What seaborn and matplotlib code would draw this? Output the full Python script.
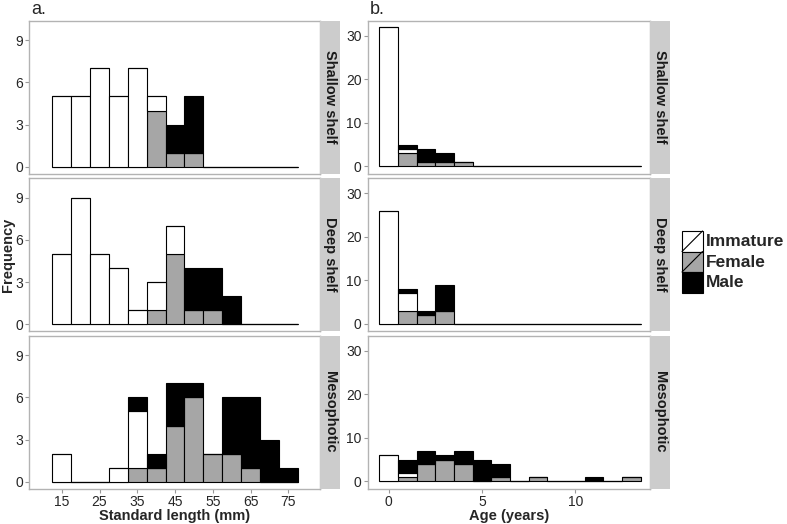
import matplotlib.pyplot as plt
import seaborn as sns
import numpy as np
import pandas as pd
from matplotlib.patches import Rectangle

# Bin centres
length_bins = [15, 20, 25, 30, 35, 40, 45, 50, 55, 60, 65, 70, 75]
age_bins = [0, 1, 2, 3, 4, 5, 6, 7, 8, 9, 10, 11, 12, 13]

sites = ['Shallow shelf', 'Deep shelf', 'Mesophotic']
stages = ['Immature', 'Female', 'Male']

# Standard length counts (per 5 mm bin)
shallow_len_immature = [5, 5, 7, 5, 7, 1, 0, 0, 0, 0, 0, 0, 0]
shallow_len_female = [0, 0, 0, 0, 0, 4, 1, 1, 0, 0, 0, 0, 0]
shallow_len_male = [0, 0, 0, 0, 0, 0, 2, 4, 0, 0, 0, 0, 0]
deep_len_immature = [5, 9, 5, 4, 1, 2, 2, 0, 0, 0, 0, 0, 0]
deep_len_female = [0, 0, 0, 0, 0, 1, 5, 1, 1, 0, 0, 0, 0]
deep_len_male = [0, 0, 0, 0, 0, 0, 0, 3, 3, 2, 0, 0, 0]
meso_len_immature = [2, 0, 0, 1, 4, 0, 0, 0, 0, 0, 0, 0, 0]
meso_len_female = [0, 0, 0, 0, 1, 1, 4, 6, 2, 2, 1, 0, 0]
meso_len_male = [0, 0, 0, 0, 1, 1, 3, 1, 0, 4, 5, 3, 1]

# Age counts (per 1 year bin)
shallow_age_immature = [32, 1, 0, 0, 0, 0, 0, 0, 0, 0, 0, 0, 0, 0]
shallow_age_female = [0, 3, 1, 1, 1, 0, 0, 0, 0, 0, 0, 0, 0, 0]
shallow_age_male = [0, 1, 3, 2, 0, 0, 0, 0, 0, 0, 0, 0, 0, 0]
deep_age_immature = [26, 4, 0, 0, 0, 0, 0, 0, 0, 0, 0, 0, 0, 0]
deep_age_female = [0, 3, 2, 3, 0, 0, 0, 0, 0, 0, 0, 0, 0, 0]
deep_age_male = [0, 1, 1, 6, 0, 0, 0, 0, 0, 0, 0, 0, 0, 0]
meso_age_immature = [6, 1, 0, 0, 0, 0, 0, 0, 0, 0, 0, 0, 0, 0]
meso_age_female = [0, 1, 4, 5, 4, 0, 1, 0, 1, 0, 0, 0, 0, 1]
meso_age_male = [0, 3, 3, 1, 3, 5, 3, 0, 0, 0, 0, 1, 0, 0]

length_counts = {
    'Shallow shelf': [shallow_len_immature, shallow_len_female, shallow_len_male],
    'Deep shelf': [deep_len_immature, deep_len_female, deep_len_male],
    'Mesophotic': [meso_len_immature, meso_len_female, meso_len_male],
}
age_counts = {
    'Shallow shelf': [shallow_age_immature, shallow_age_female, shallow_age_male],
    'Deep shelf': [deep_age_immature, deep_age_female, deep_age_male],
    'Mesophotic': [meso_age_immature, meso_age_female, meso_age_male],
}

colors = {'Immature': 'white', 'Female': '#A6A6A6', 'Male': 'black'}
# seaborn stacks the last hue level at the bottom
stack_order = ['Male', 'Immature', 'Female']


def long_table(bins, counts):
    rows = []
    for stage, vals in zip(stages, counts):
        for b, c in zip(bins, vals):
            rows.append({'value': b, 'stage': stage, 'count': c})
    return pd.DataFrame(rows)


sns.set_theme(style='white')
plt.rcParams['font.family'] = ['Liberation Sans', 'DejaVu Sans']

W, H = 787, 524
fig = plt.figure(figsize=(W / 100, H / 100), dpi=100)


def px_axes(x0, y0, x1, y1):
    return fig.add_axes([x0 / W, 1 - y1 / H, (x1 - x0) / W, (y1 - y0) / H])


row_tops = [20.7, 178.2, 335.7]
row_h = 153
columns = [
    dict(x0=29.3, x1=320, s1=340, bins=length_bins, counts=length_counts,
         binwidth=5, binrange=(12.5, 77.5), xlim=(6.4, 83.4), ylim=(-0.5, 10.4),
         xticks=[15, 25, 35, 45, 55, 65, 75], yticks=[0, 3, 6, 9],
         xlabel='Standard length (mm)', tag='a.'),
    dict(x0=368, x1=650, s1=670, bins=age_bins, counts=age_counts,
         binwidth=1, binrange=(-0.5, 13.5), xlim=(-1.1, 14.0), ylim=(-1.7, 33.5),
         xticks=[0, 5, 10], yticks=[0, 10, 20, 30],
         xlabel='Age (years)', tag='b.'),
]

for col in columns:
    for r, site in enumerate(sites):
        top = row_tops[r]
        ax = px_axes(col['x0'], top, col['x1'], top + row_h)
        df = long_table(col['bins'], col['counts'][site])
        sns.histplot(data=df, x='value', weights='count', hue='stage',
                     hue_order=stack_order, multiple='stack',
                     binwidth=col['binwidth'], binrange=col['binrange'],
                     palette=colors, edgecolor='black', linewidth=0.8,
                     alpha=1, legend=False, ax=ax)
        ax.set_xlim(*col['xlim'])
        ax.set_ylim(*col['ylim'])
        ax.set_xticks(col['xticks'])
        ax.set_yticks(col['yticks'])
        ax.set_xlabel('')
        ax.set_ylabel('')
        for sp in ax.spines.values():
            sp.set_color('#B3B3B3')
            sp.set_linewidth(1)
        ax.tick_params(axis='both', length=3, width=0.8, color='#999999',
                       labelsize=10, labelcolor='#262626', pad=1.5,
                       left=True, bottom=True)
        if r < 2:
            ax.tick_params(axis='x', bottom=False, labelbottom=False)

        # facet strip on the right
        sax = px_axes(col['x1'], top, col['s1'], top + row_h)
        sax.set_facecolor('#CCCCCC')
        sax.set_xticks([])
        sax.set_yticks([])
        for sp in sax.spines.values():
            sp.set_visible(False)
        sax.text(0.5, 0.5, site, rotation=-90, ha='center', va='center',
                 fontsize=10.5, fontweight='bold', color='#1A1A1A',
                 transform=sax.transAxes)

    cx = (col['x0'] + col['x1']) / 2
    fig.text(cx / W, 1 - 516 / H, col['xlabel'], ha='center', va='center',
             fontsize=10.5, fontweight='bold')
    fig.text((col['x0'] + 2) / W, 1 - 10 / H, col['tag'], ha='left',
             va='center', fontsize=13)

fig.text(8 / W, 1 - 255 / H, 'Frequency', rotation=90, ha='center',
         va='center', fontsize=10.5, fontweight='bold')

# legend
lax = px_axes(680, 228, 787, 296)
lax.set_xlim(0, 107)
lax.set_ylim(68, 0)
lax.axis('off')
for i, stage in enumerate(stages):
    y = 3 + i * 20.5
    lax.add_patch(Rectangle((2, y), 20.5, 20.5, facecolor=colors[stage],
                            edgecolor='black', linewidth=0.8))
    if stage != 'Male':
        lax.plot([2, 22.5], [y + 20.5, y], color='black', linewidth=0.8)
    lax.text(26, y + 10.5, stage, ha='left', va='center', fontsize=12.5,
             fontweight='bold')

fig.savefig('out.png', dpi=100)
